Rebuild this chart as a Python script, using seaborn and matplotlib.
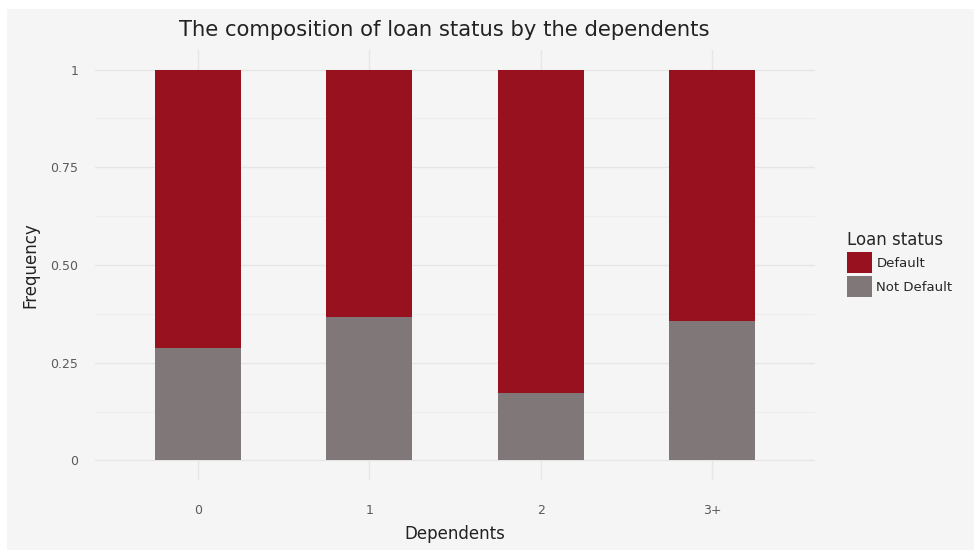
import matplotlib
matplotlib.use("Agg")
import matplotlib.pyplot as plt
from matplotlib.patches import Patch, Rectangle
from matplotlib.ticker import MultipleLocator
import seaborn as sns
import pandas as pd

# Share of each loan status within every dependents group
dependents = ["0", "1", "2", "3+"]
not_default = [0.287, 0.367, 0.173, 0.358]
default = [0.713, 0.633, 0.827, 0.642]
y_ticks = [0, 0.25, 0.50, 0.75, 1]
y_tick_labels = ["0", "0.25", "0.50", "0.75", "1"]

RED = "#98111e"
GREY = "#807878"
PANEL = "#f5f5f5"

df = pd.DataFrame({
    "Dependents": dependents,
    "Not Default": not_default,
    "Default": default,
})
df["Total"] = df["Not Default"] + df["Default"]

sns.set_theme(style="white")
plt.rcParams["font.family"] = ["DejaVu Sans"]

fig = plt.figure(figsize=(9.74, 5.5), dpi=100, facecolor="white")
# light grey plot background with a thin white margin on the left and top
fig.patches.append(Rectangle((7 / 974, -0.1), 1.2, 1.1 - 9 / 550,
                             transform=fig.transFigure, facecolor=PANEL,
                             edgecolor="none", zorder=-10))

ax = fig.add_axes([95 / 974, 70 / 550, 720 / 974, 430 / 550])
ax.set_facecolor(PANEL)

# stacked bars: full height in red, grey share drawn over it
sns.barplot(data=df, x="Dependents", y="Total", color=RED, width=0.5,
            saturation=1, ax=ax, order=dependents, zorder=3, linewidth=0)
sns.barplot(data=df, x="Dependents", y="Not Default", color=GREY, width=0.5,
            saturation=1, ax=ax, order=dependents, zorder=3, linewidth=0)

ax.set_xlim(-0.6, 3.6)
ax.set_ylim(-0.05, 1.05)
ax.set_yticks(y_ticks)
ax.set_yticklabels(y_tick_labels)
ax.yaxis.set_minor_locator(MultipleLocator(0.125))

ax.grid(which="major", axis="both", color="#e6e6e6", linewidth=1.0, zorder=0)
ax.grid(which="minor", axis="y", color="#eeeeee", linewidth=0.8, zorder=0)
ax.set_axisbelow(True)
for s in ax.spines.values():
    s.set_visible(False)

ax.tick_params(axis="both", which="both", length=0, labelsize=9,
               labelcolor="#5a5a5a")
ax.tick_params(axis="x", pad=17)
ax.tick_params(axis="y", pad=12)

ax.set_xlabel("Dependents", fontsize=12, color="#222222", labelpad=6)
ax.set_ylabel("Frequency", fontsize=12, color="#222222", labelpad=8)

fig.text(444 / 974, 1 - 30 / 550, "The composition of loan status by the dependents",
         ha="center", va="center", fontsize=15.2, color="#222222")

handles = [Patch(facecolor=RED, edgecolor="none", label="Default"),
           Patch(facecolor=GREY, edgecolor="none", label="Not Default")]
leg = fig.legend(handles=handles, title="Loan status", loc="upper left",
                 bbox_to_anchor=(838 / 974, 1 - 222 / 550), frameon=False,
                 fontsize=9.5, title_fontsize=12, handlelength=1.9,
                 handleheight=2.1, handletextpad=0.3, labelspacing=0.2,
                 borderpad=0.2)
leg._legend_box.align = "left"

fig.savefig("out.png", dpi=100, facecolor=fig.get_facecolor())
